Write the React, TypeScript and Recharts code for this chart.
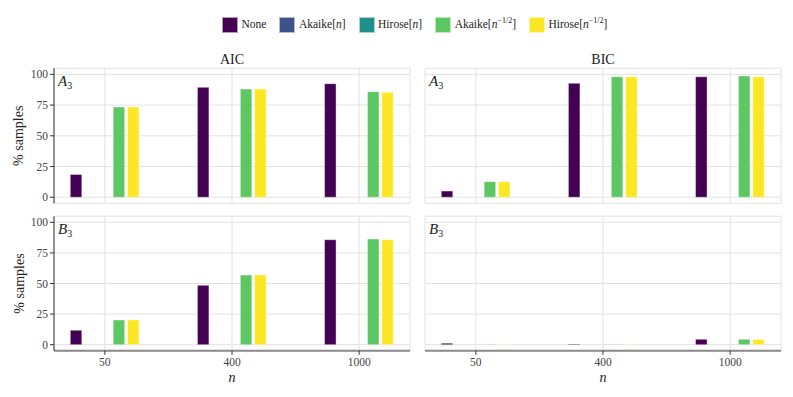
import React from 'react';
import { BarChart, Bar, XAxis, YAxis, CartesianGrid } from 'recharts';

const FONT = '"Liberation Serif", "DejaVu Serif", serif';

const nLabels = ['50', '400', '1000'];
const nIndex = [1, 2, 3];
const yTicks = [0, 25, 50, 75, 100];

const seriesKeys = ['none', 'akaikeN', 'hiroseN', 'akaikeSqrt', 'hiroseSqrt'];
const seriesColors = ['#440154', '#3B528B', '#21908C', '#5DC863', '#FDE725'];

// AIC, A3
const aicA3None = [18.5, 89.4, 92.4];
const aicA3AkaikeN = [null, null, null];
const aicA3HiroseN = [null, null, null];
const aicA3AkaikeSqrt = [73.4, 88.0, 85.9];
const aicA3HiroseSqrt = [73.5, 88.0, 85.4];

// BIC, A3
const bicA3None = [5.0, 92.7, 98.0];
const bicA3AkaikeN = [null, null, null];
const bicA3HiroseN = [null, null, null];
const bicA3AkaikeSqrt = [12.7, 98.0, 98.6];
const bicA3HiroseSqrt = [12.7, 98.0, 98.0];

// AIC, B3
const aicB3None = [11.8, 48.5, 85.8];
const aicB3AkaikeN = [null, null, null];
const aicB3HiroseN = [null, null, null];
const aicB3AkaikeSqrt = [20.2, 56.9, 86.3];
const aicB3HiroseSqrt = [20.2, 57.0, 85.8];

// BIC, B3
const bicB3None = [1.2, 0.5, 4.4];
const bicB3AkaikeN = [null, null, null];
const bicB3HiroseN = [null, null, null];
const bicB3AkaikeSqrt = [0.4, 0.4, 4.4];
const bicB3HiroseSqrt = [0.4, 0.4, 4.2];

type Val = number | null;

function buildRows(cols: Val[][]) {
  return nIndex.map((x, i) => {
    const row: Record<string, Val> = { x };
    seriesKeys.forEach((k, s) => {
      row[k] = cols[s][i];
    });
    return row;
  });
}

const dataAicA3 = buildRows([aicA3None, aicA3AkaikeN, aicA3HiroseN, aicA3AkaikeSqrt, aicA3HiroseSqrt]);
const dataBicA3 = buildRows([bicA3None, bicA3AkaikeN, bicA3HiroseN, bicA3AkaikeSqrt, bicA3HiroseSqrt]);
const dataAicB3 = buildRows([aicB3None, aicB3AkaikeN, aicB3HiroseN, aicB3AkaikeSqrt, aicB3HiroseSqrt]);
const dataBicB3 = buildRows([bicB3None, bicB3AkaikeN, bicB3HiroseN, bicB3AkaikeSqrt, bicB3HiroseSqrt]);

const YTitle = (props: any) => {
  const vb = props.viewBox || {};
  const cx = 19;
  const cy = vb.y + vb.height / 2;
  return (
    <text
      x={cx}
      y={cy}
      transform={`rotate(-90, ${cx}, ${cy})`}
      textAnchor="middle"
      dominantBaseline="central"
      fontSize={14}
      fill="#222"
      style={{ fontFamily: FONT }}
    >
      % samples
    </text>
  );
};

const XTitle = (props: any) => {
  const vb = props.viewBox || {};
  return (
    <text
      x={vb.x + vb.width / 2}
      y={vb.y + 31}
      textAnchor="middle"
      fontSize={14}
      fontStyle="italic"
      fill="#222"
      style={{ fontFamily: FONT }}
    >
      n
    </text>
  );
};

type PanelProps = {
  data: any[];
  left: number;
  top: number;
  width: number;
  height: number;
  margin: { top: number; right: number; bottom: number; left: number };
  showY: boolean;
  showX: boolean;
};

const tickStyle = { fill: '#444', fontSize: 11.5, fontFamily: FONT, style: { fontFamily: FONT } };

const Panel = ({ data, left, top, width, height, margin, showY, showX }: PanelProps) => (
  <div style={{ position: 'absolute', left, top, width, height, fontFamily: FONT }}>
    <BarChart
      width={width}
      height={height}
      data={data}
      margin={margin}
      barGap={2.8}
      style={{ fontFamily: FONT }}
    >
      <CartesianGrid stroke="#e2e2e2" strokeWidth={1} vertical horizontal />
      <XAxis
        type="number"
        dataKey="x"
        domain={[0.6, 3.4]}
        ticks={nIndex}
        interval={0}
        allowDataOverflow
        hide={!showX}
        height={36}
        tickFormatter={(v: number) => nLabels[v - 1]}
        tickSize={4}
        tickMargin={3}
        axisLine={{ stroke: '#8a8a8a', strokeWidth: 2 }}
        tickLine={{ stroke: '#333' }}
        tick={tickStyle}
        label={<XTitle />}
      />
      <YAxis
        type="number"
        domain={[-5, 105]}
        ticks={yTicks}
        interval={0}
        allowDataOverflow
        hide={!showY}
        width={54}
        tickSize={4}
        tickMargin={2}
        axisLine={{ stroke: '#333', strokeWidth: 1 }}
        tickLine={{ stroke: '#333' }}
        tick={tickStyle}
        label={<YTitle />}
      />
      {seriesKeys.map((k, i) => (
        <Bar
          key={k}
          dataKey={k}
          fill={seriesColors[i]}
          barSize={11.5}
          stroke="#ffffff"
          strokeWidth={0.4}
          isAnimationActive={false}
        />
      ))}
    </BarChart>
  </div>
);

const legendItems = [
  { color: seriesColors[0], label: <>None</> },
  { color: seriesColors[1], label: <>Akaike[<i>n</i>]</> },
  { color: seriesColors[2], label: <>Hirose[<i>n</i>]</> },
  {
    color: seriesColors[3],
    label: (
      <>
        Akaike[<i>n</i>
        <span style={{ fontSize: 8, position: 'relative', top: -5 }}>−1/2</span>]
      </>
    ),
  },
  {
    color: seriesColors[4],
    label: (
      <>
        Hirose[<i>n</i>
        <span style={{ fontSize: 8, position: 'relative', top: -5 }}>−1/2</span>]
      </>
    ),
  },
];

const Annot = ({ left, top, letter }: { left: number; top: number; letter: string }) => (
  <div style={{ position: 'absolute', left, top, fontSize: 15, lineHeight: 1, color: '#222' }}>
    <i>{letter}</i>
    <span style={{ fontSize: 10, position: 'relative', top: 3 }}>3</span>
  </div>
);

const Title = ({ left, width, text }: { left: number; width: number; text: string }) => (
  <div
    style={{
      position: 'absolute',
      left,
      width,
      top: 53,
      textAlign: 'center',
      fontSize: 14,
      lineHeight: 1,
      color: '#222',
    }}
  >
    {text}
  </div>
);

export default function App() {
  return (
    <div
      style={{
        position: 'absolute',
        left: 0,
        top: 0,
        width: 793,
        height: 397,
        background: '#fff',
        fontFamily: FONT,
        overflow: 'hidden',
      }}
    >
      <div
        style={{
          position: 'absolute',
          left: 222,
          top: 17,
          display: 'flex',
          alignItems: 'center',
          gap: 13,
          fontSize: 11.5,
          color: '#222',
          lineHeight: 1,
          whiteSpace: 'nowrap',
        }}
      >
        {legendItems.map((it, i) => (
          <div key={i} style={{ display: 'flex', alignItems: 'center' }}>
            <span
              style={{
                display: 'inline-block',
                width: 16,
                height: 16,
                background: it.color,
                marginRight: 3.5,
                boxSizing: 'border-box',
                border: '0.5px solid rgba(255,255,255,0.6)',
              }}
            />
            <span>{it.label}</span>
          </div>
        ))}
      </div>

      <Title left={54} width={356} text="AIC" />
      <Title left={425} width={356} text="BIC" />

      <Panel
        data={dataAicA3}
        left={0}
        top={40}
        width={420}
        height={175}
        margin={{ top: 28.2, right: 10, bottom: 11.6, left: 0 }}
        showY
        showX={false}
      />
      <Panel
        data={dataBicA3}
        left={420}
        top={40}
        width={373}
        height={175}
        margin={{ top: 28.2, right: 12, bottom: 11.6, left: 5 }}
        showY={false}
        showX={false}
      />
      <Panel
        data={dataAicB3}
        left={0}
        top={215}
        width={420}
        height={180}
        margin={{ top: 1.2, right: 10, bottom: 8.2, left: 0 }}
        showY
        showX
      />
      <Panel
        data={dataBicB3}
        left={420}
        top={215}
        width={373}
        height={180}
        margin={{ top: 1.2, right: 12, bottom: 8.2, left: 5 }}
        showY={false}
        showX
      />

      <Annot left={58} top={74} letter="A" />
      <Annot left={429} top={74} letter="A" />
      <Annot left={58} top={222} letter="B" />
      <Annot left={429} top={222} letter="B" />
    </div>
  );
}
